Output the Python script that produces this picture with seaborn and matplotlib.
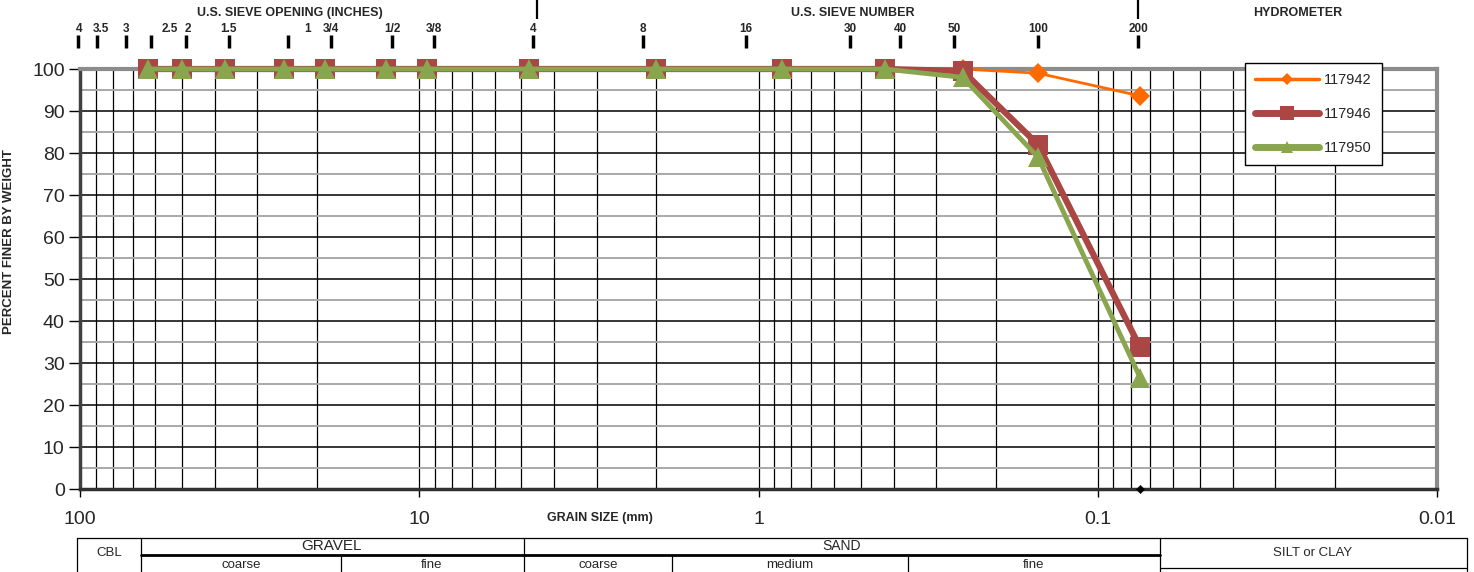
import numpy as np
import pandas as pd
import matplotlib
matplotlib.use("Agg")
import matplotlib.pyplot as plt
import seaborn as sns
from matplotlib.lines import Line2D
from matplotlib import font_manager

# ---------------- data ----------------
grain_mm = [63.0, 50.0, 37.5, 25.0, 19.0, 12.5, 9.5, 4.75, 2.0, 0.85, 0.425, 0.25, 0.15, 0.075]
s117942 = [100, 100, 100, 100, 100, 100, 100, 100, 100, 100, 100, 100.0, 99.0, 93.6]
s117946 = [100, 100, 100, 100, 100, 100, 100, 100, 100, 100, 100, 99.5, 82.0, 33.7]
s117950 = [100, 100, 100, 100, 100, 100, 100, 100, 100, 100, 100, 98.0, 79.0, 26.5]
series_names = ["117942", "117946", "117950"]

hydro_mm = [0.075]
hydro_val = [0]

# top sieve ticks (positions in mm as drawn on the chart) and labels
sieve_tick_mm = [101.6, 88.9, 73.0, 61.8, 48.7, 36.4, 24.4, 18.2, 12.0, 9.04,
                 4.62, 2.19, 1.088, 0.537, 0.3825, 0.265, 0.1498, 0.076]
sieve_label_mm = [100.7, 87.0, 73.0, 54.5, 48.2, 36.4, 21.4, 18.2, 12.0, 9.04,
                  4.62, 2.19, 1.088, 0.537, 0.3825, 0.265, 0.1498, 0.076]
sieve_labels = ["4", "3.5", "3", "2.5", "2", "1.5", "1", "3/4", "1/2", "3/8",
                "4", "8", "16", "30", "40", "50", "100", "200"]
section_mm = [4.5, 0.076]

x_ticks = [100, 10, 1, 0.1, 0.01]
x_ticklabels = ["100", "10", "1", "0.1", "0.01"]
y_ticks = list(range(0, 101, 10))

colors = ["#FF6A00", "#AA4643", "#89A54E"]

# ---------------- fonts ----------------
sns.set_style("white")
names = {f.name for f in font_manager.fontManager.ttflist}
NARROW = "Liberation Sans Narrow" if "Liberation Sans Narrow" in names else "Liberation Sans"
plt.rcParams["font.family"] = ["Liberation Sans", "DejaVu Sans"]

fig = plt.figure(figsize=(14.74, 5.72), dpi=100)
W, H = 1474, 572
ax = fig.add_axes([80 / W, 1 - 489 / H, 1357 / W, 420 / H])

ax.set_xscale("log")
ax.set_xlim(100, 0.01)
ax.set_ylim(0, 100)

# grid
ax.set_yticks(y_ticks)
ax.set_yticks(list(range(5, 100, 10)), minor=True)
ax.set_xticks(x_ticks)
ax.set_xticklabels(x_ticklabels)
ax.xaxis.set_minor_locator(matplotlib.ticker.LogLocator(base=10, subs=np.arange(2, 10)))
ax.xaxis.set_minor_formatter(matplotlib.ticker.NullFormatter())
ax.grid(which="major", axis="x", color="black", lw=0.9)
ax.grid(which="minor", axis="x", color="black", lw=0.9)
ax.grid(which="major", axis="y", color="black", lw=1.1)
ax.grid(which="minor", axis="y", color="#A8A8A8", lw=1.4)
ax.set_axisbelow(True)

ax.tick_params(axis="x", which="major", direction="out", length=6, width=1, color="black",
               labelsize=14, pad=10, bottom=True)
ax.tick_params(axis="x", which="minor", length=0)
ax.tick_params(axis="y", which="major", direction="out", length=8, width=1, color="black",
               labelsize=14, pad=3, left=True)
ax.tick_params(axis="y", which="minor", length=0)

for side in ["top", "right"]:
    ax.spines[side].set_color("#8C8C8C")
    ax.spines[side].set_linewidth(3)
ax.spines["left"].set_color("#404040")
ax.spines["left"].set_linewidth(2.5)
ax.spines["bottom"].set_color("#303030")
ax.spines["bottom"].set_linewidth(2.5)

# series
df = pd.DataFrame({"mm": grain_mm * 3,
                   "pct": s117942 + s117946 + s117950,
                   "sample": sum([[n] * len(grain_mm) for n in series_names], [])})
styles = {
    "117942": dict(color=colors[0], lw=2.0, marker="D", markersize=10, zorder=3),
    "117946": dict(color=colors[1], lw=4.5, marker="s", markersize=14, zorder=4),
    "117950": dict(color=colors[2], lw=3.5, marker="^", markersize=15, zorder=5),
}
for n in series_names:
    sub = df[df["sample"] == n]
    st = styles[n]
    sns.lineplot(data=sub, x="mm", y="pct", ax=ax, sort=False, estimator=None,
                 color=st["color"], lw=st["lw"], marker=st["marker"],
                 markersize=st["markersize"], markeredgewidth=0,
                 markerfacecolor=st["color"], zorder=st["zorder"], clip_on=False,
                 legend=False)
sns.scatterplot(x=hydro_mm, y=hydro_val, ax=ax, marker="D", s=18, color="black",
                edgecolor="black", zorder=6, clip_on=False, legend=False)

ax.set_xlabel("")
ax.set_ylabel("PERCENT FINER BY WEIGHT", fontsize=9.5, fontweight="bold")
ax.yaxis.set_label_coords(-0.0479, 0.59)

# legend
handles = [Line2D([0], [0], color=colors[0], lw=2.5, marker="D", markersize=6, markeredgewidth=0),
           Line2D([0], [0], color=colors[1], lw=5, marker="s", markersize=10, markeredgewidth=0),
           Line2D([0], [0], color=colors[2], lw=5, marker="^", markersize=8, markeredgewidth=0)]
leg = ax.legend(handles, series_names, loc="upper left", bbox_to_anchor=(0.8585, 1.014),
                frameon=True, fancybox=False, edgecolor="black", framealpha=1,
                fontsize=10.5, handlelength=4.4, labelspacing=1.35, borderpad=0.7,
                handletextpad=0.3, borderaxespad=0)
leg.get_frame().set_linewidth(1)
leg.set_zorder(10)

# top sieve ticks and labels
tx = ax.get_xaxis_transform()
ax.vlines(sieve_tick_mm, 1.05, 1.081, transform=tx, colors="black", lw=2.5, clip_on=False)
for xm, lab in zip(sieve_label_mm, sieve_labels):
    ax.text(xm, 1.095, lab, transform=tx, ha="center", va="center", fontsize=8.5,
            fontweight="bold")
ax.vlines(section_mm, 1.118, 1.164, transform=tx, colors="black", lw=1.6, clip_on=False)
ax.text(0.1548, 1.133, "U.S. SIEVE OPENING (INCHES)", transform=ax.transAxes, ha="center",
        va="center", fontsize=9, fontweight="bold", family=NARROW)
ax.text(0.5696, 1.133, "U.S. SIEVE NUMBER", transform=ax.transAxes, ha="center",
        va="center", fontsize=9, fontweight="bold", family=NARROW)
ax.text(0.8976, 1.133, "HYDROMETER", transform=ax.transAxes, ha="center",
        va="center", fontsize=9, fontweight="bold", family=NARROW)

# grain size label
fig.text(600 / W, 1 - 518 / H, "GRAIN SIZE (mm)", ha="center", va="center", fontsize=9,
         fontweight="bold", family=NARROW)

# classification table (layout in pixel coordinates)
tab = fig.add_axes([0, 0, 1, 1], facecolor="none")
tab.set_xlim(0, W)
tab.set_ylim(H, 0)
tab.axis("off")
lk = dict(color="black", lw=0.9)
tab.plot([77, 1467], [538, 538], **lk)
tab.plot([141, 1160], [555, 555], color="black", lw=2)
tab.plot([1160, 1467], [568, 568], **lk)
for xv in [77, 141, 524, 1160, 1467]:
    tab.plot([xv, xv], [538, 572], **lk)
for xv in [341, 672, 908]:
    tab.plot([xv, xv], [555, 572], **lk)
tf = dict(ha="center", va="center", family=NARROW)
tab.text(109, 553, "CBL", fontsize=9.5, **tf)
tab.text(332, 546, "GRAVEL", fontsize=11, **tf)
tab.text(842, 546, "SAND", fontsize=10, **tf)
tab.text(1313, 553, "SILT or CLAY", fontsize=9.5, **tf)
for xv, lab in zip([241, 432, 598, 790, 1034], ["coarse", "fine", "coarse", "medium", "fine"]):
    tab.text(xv, 565, lab, fontsize=9.5, **tf)

fig.savefig("out.png", dpi=100)
